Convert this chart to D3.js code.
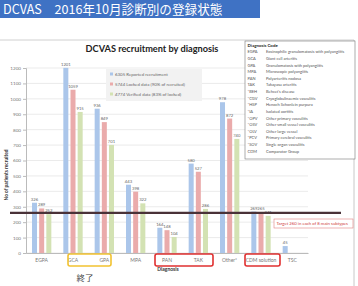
<!DOCTYPE html>
<html><head><meta charset="utf-8">
<script src="https://cdn.jsdelivr.net/npm/d3@7"></script>
<style>
html,body{margin:0;padding:0;background:#fff;}
svg{display:block;}
</style></head>
<body>
<script>
const categories = ["EGPA","GCA","GPA","MPA","PAN","TAK","Other*","CDM solution","TSC"];
const seriesNames = ["6305 Reported recruitment","5744 Locked data (90% of recruited)","4774 Verified data (83% of locked)"];
const reported = [326,1201,936,443,164,580,978,269,45];
const locked   = [289,1059,849,398,148,527,872,265,null];
const verified = [252,915,701,322,104,286,740,241,null];
const yTicks = [0,100,200,300,400,500,600,700,800,900,1000,1100,1200];
const target = 260;
const targetLabel = "Target 260 in each of 8 main subtypes";
const codes = ["EGPA","GCA","GPA","MPA","PAN","TAK","*BEH","*CGV","*HSP","*IA","*OPV","*OSV","*OLV","*PCV","*SOV","CDM"];
const codeNames = ["Eosinophilic granulomatosis with polyangiitis","Giant cell arteritis","Granulomatosis with polyangiitis","Microscopic polyangiitis","Polyarteritis nodosa","Takayasu arteritis","Behcet's disease","Cryoglobulinaemic vasculitis","Henoch Schonlein purpura","Isolated aortitis","Other primary vasculitis","Other small vessel vasculitis","Other large vessel","Primary cerebral vasculitis","Single organ vasculitis","Comparator Group"];

const colors = ["#abc6ea","#eaabab","#d3e2b3"];
const W = 358, H = 286;
const font = "Lato, 'Open Sans', sans-serif";
const svg = d3.select("body").append("svg").attr("width", W).attr("height", H);

// slide header
svg.append("rect").attr("x",0).attr("y",0).attr("width",260).attr("height",18).attr("fill","#3f72c4");
svg.append("text").attr("x",3).attr("y",14).attr("fill","#fff")
  .style("font-family","'Noto Sans CJK JP', sans-serif").style("font-size","12.6px")
  .text("DCVAS\u30002016年10月診断別の登録状態");

// chart panel border
svg.append("line").attr("x1",0).attr("x2",354).attr("y1",40).attr("y2",40).attr("stroke","#d0d0d0");
svg.append("line").attr("x1",354).attr("x2",354).attr("y1",40).attr("y2",286).attr("stroke","#c8c8c8");

const x0 = d3.scaleBand().domain(categories).range([26,308]);
const x1 = d3.scaleBand().domain([0,1,2]).range([6, x0.bandwidth()-6]).paddingInner(0.3);
const y = d3.scaleLinear().domain([0,1200]).range([253,68]);

// gridlines
svg.append("g").selectAll("line").data(yTicks).join("line")
  .attr("x1",26).attr("x2",308).attr("y1",d=>y(d)).attr("y2",d=>y(d))
  .attr("stroke","#e3e3e3").attr("stroke-width",0.7);

// y axis
const yAxis = svg.append("g").attr("transform","translate(26,0)")
  .call(d3.axisLeft(y).tickValues(yTicks).tickFormat(d3.format("d")).tickSize(3).tickPadding(2));
yAxis.select(".domain").attr("stroke","#bbb");
yAxis.selectAll(".tick line").attr("stroke","#bbb");
yAxis.selectAll("text").attr("fill","#777").style("font-family",font).style("font-size","4.6px");

// x axis
const xAxis = svg.append("g").attr("transform","translate(0,253)")
  .call(d3.axisBottom(x0).tickSize(0).tickPadding(5));
xAxis.select(".domain").attr("stroke","#bbb");
xAxis.selectAll("text").attr("fill","#777").style("font-family",font).style("font-size","5px");

// bars
const seriesData = [reported, locked, verified];
seriesData.forEach((vals, si) => {
  const g = svg.append("g");
  const data = categories.map((c,i)=>({c, v: vals[i]})).filter(d=>d.v!=null);
  g.selectAll("rect").data(data).join("rect")
    .attr("x", d=>x0(d.c)+x1(si)).attr("width", x1.bandwidth())
    .attr("y", d=>y(d.v)).attr("height", d=>y(0)-y(d.v)).attr("fill", colors[si]);
  g.selectAll("text").data(data).join("text")
    .attr("x", d=>x0(d.c)+x1(si)+x1.bandwidth()/2).attr("y", d=>y(d.v)-2)
    .attr("text-anchor","middle").attr("fill","#666")
    .style("font-family",font).style("font-size","4.2px").text(d=>d.v);
});

// target line
svg.append("line").attr("x1",10).attr("x2",341).attr("y1",y(target)).attr("y2",y(target))
  .attr("stroke","#4a3238").attr("stroke-width",2.4);
svg.append("rect").attr("x",274).attr("y",219).attr("width",79).attr("height",9)
  .attr("fill","#fff").attr("stroke","#e08080").attr("stroke-width",0.6);
svg.append("text").attr("x",276.5).attr("y",225.3).attr("fill","#d04040")
  .style("font-family",font).style("font-size","4.3px").text(targetLabel);

// titles
svg.append("text").attr("x",152).attr("y",52).attr("text-anchor","middle").attr("fill","#222")
  .style("font-family",font).style("font-weight","bold").style("font-size","9.2px")
  .text("DCVAS recruitment by diagnosis");
svg.append("text").attr("transform","translate(8,175) rotate(-90)").attr("text-anchor","middle")
  .attr("fill","#333").style("font-family",font).style("font-weight","bold").style("font-size","4.8px")
  .text("No of patients recruited");
svg.append("text").attr("x",168).attr("y",270.5).attr("text-anchor","middle").attr("fill","#333")
  .style("font-family",font).style("font-weight","bold").style("font-size","5px").text("Diagnosis");

// series legend
const lg = svg.append("g");
lg.append("rect").attr("x",106).attr("y",69).attr("width",96).attr("height",32).attr("fill","#f2f2f2");
seriesNames.forEach((s,i)=>{
  lg.append("rect").attr("x",110).attr("y",72.5+i*10).attr("width",3).attr("height",3).attr("fill",colors[i]);
  lg.append("text").attr("x",115).attr("y",75.6+i*10).attr("fill","#666")
    .style("font-family",font).style("font-size","4.4px").text(s);
});

// diagnosis code legend
const cg = svg.append("g");
cg.append("rect").attr("x",245).attr("y",41).attr("width",110).attr("height",118)
  .attr("fill","#fff").attr("stroke","#777").attr("stroke-width",0.6);
cg.append("text").attr("x",247.5).attr("y",47).attr("fill","#222")
  .style("font-family",font).style("font-weight","bold").style("font-size","4.4px").text("Diagnosis Code");
codes.forEach((c,i)=>{
  cg.append("text").attr("x",247.5).attr("y",53.3+i*6.62).attr("fill","#555")
    .style("font-family",font).style("font-size","4px").text(c);
  cg.append("text").attr("x",266).attr("y",53.3+i*6.62).attr("fill","#555")
    .style("font-family",font).style("font-size","4px").text(codeNames[i]);
});

// highlight boxes
const hl = [[68,111,"#f2c230"],[155,213,"#e03030"],[245,280,"#e03030"]];
svg.append("g").selectAll("rect").data(hl).join("rect")
  .attr("x",d=>d[0]).attr("y",254).attr("width",d=>d[1]-d[0]).attr("height",12)
  .attr("rx",2).attr("fill","none").attr("stroke",d=>d[2]).attr("stroke-width",1.6);
svg.append("text").attr("x",85).attr("y",281).attr("text-anchor","middle").attr("fill","#444")
  .style("font-family","'Noto Sans CJK JP', sans-serif").style("font-size","8.5px").text("終了");
</script>
</body></html>
